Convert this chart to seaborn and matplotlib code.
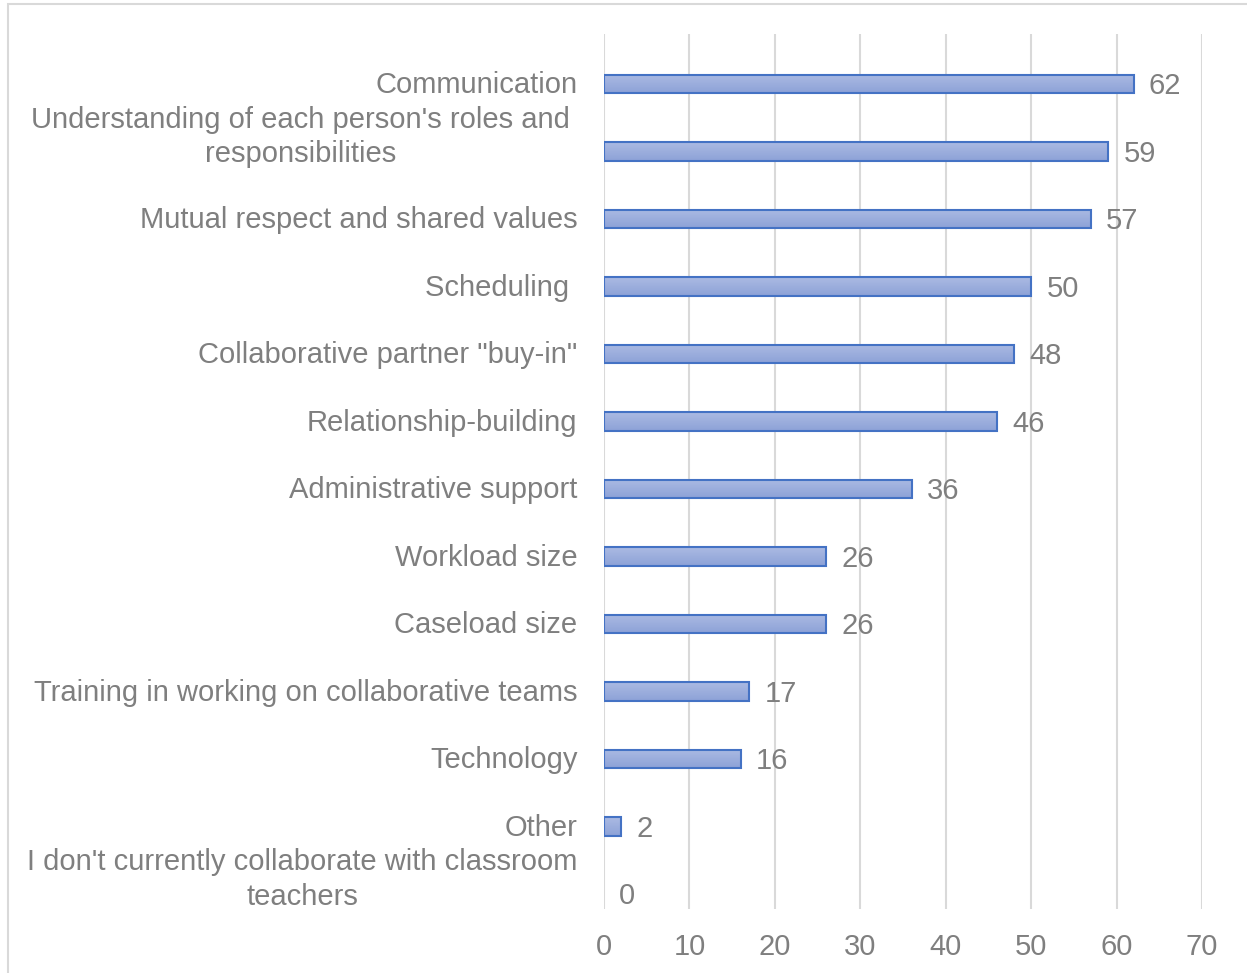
import matplotlib
matplotlib.use("Agg")
import matplotlib.pyplot as plt
import matplotlib.transforms as mtransforms
from matplotlib.patches import Rectangle
import numpy as np
import pandas as pd
import seaborn as sns

# Survey responses: factors in successful collaboration
factors = [
    "Communication",
    "Understanding of each person's roles and\nresponsibilities",
    "Mutual respect and shared values",
    "Scheduling ",
    'Collaborative partner "buy-in"',
    "Relationship-building",
    "Administrative support",
    "Workload size",
    "Caseload size",
    "Training in working on collaborative teams",
    "Technology",
    "Other",
    "I don't currently collaborate with classroom\nteachers",
]
counts = [62, 59, 57, 50, 48, 46, 36, 26, 26, 17, 16, 2, 0]
x_ticks = [0, 10, 20, 30, 40, 50, 60, 70]

GRAY = "#7f7f7f"
EDGE = "#4472c4"
FS = 21

sns.set_theme(style="white")
plt.rcParams["font.family"] = ["Liberation Sans", "DejaVu Sans"]

df = pd.DataFrame({"factor": factors, "count": counts})

W, H, DPI = 1247, 973, 100
fig = plt.figure(figsize=(W / DPI, H / DPI), dpi=DPI)
ax = fig.add_axes([604 / W, 1 - 909 / H, (1202 - 604) / W, (909 - 34) / H])

sns.barplot(data=df, x="count", y="factor", orient="h", ax=ax,
            width=0.27, color="#9dafdf", edgecolor=EDGE, linewidth=1.5,
            zorder=3)

xlim = (0, 70)
ylim = (12.222, -0.741)

# Vertical gradient fill inside each bar
grad = np.linspace(0, 1, 64).reshape(-1, 1)
cmap = matplotlib.colors.LinearSegmentedColormap.from_list(
    "barfill", ["#abbae3", "#8da2d7"])
for bar in ax.containers[0]:
    x0, y0 = bar.get_x(), bar.get_y()
    w, h = bar.get_width(), bar.get_height()
    bar.set_facecolor("none")
    if w <= 0:
        bar.set_linewidth(0)
        continue
    im = ax.imshow(grad, cmap=cmap, aspect="auto", origin="upper",
                   extent=(x0, x0 + w, y0 + h, y0), zorder=2.5,
                   interpolation="bilinear")
    im.set_clip_path(bar)

value_labels = ax.bar_label(ax.containers[0],
                            labels=[str(v) for v in counts],
                            padding=11, fontsize=FS, color=GRAY)
for t in value_labels:
    t.xyann = (11, -1.6)

ax.set_xlim(*xlim)
ax.set_ylim(*ylim)
ax.set_xticks(x_ticks)
ax.set_xticklabels([str(t) for t in x_ticks])
ax.set_xlabel("")
ax.set_ylabel("")

ax.grid(axis="x", color="#d9d9d9", linewidth=1.5, zorder=0)
ax.grid(axis="y", visible=False)
for s in ax.spines.values():
    s.set_visible(False)

ax.tick_params(axis="both", length=0, labelsize=FS, labelcolor=GRAY)
ax.tick_params(axis="x", pad=17.5)
ax.tick_params(axis="y", pad=19)

for lab in ax.get_yticklabels():
    lab.set_multialignment("center")
    dx, dy = 0, 2
    if "\n" in lab.get_text():
        lab.set_linespacing(1.3)
        dy = 21
        if lab.get_text().startswith("Understanding"):
            dx = -8
    off = mtransforms.ScaledTranslation(dx / DPI, dy / DPI,
                                        fig.dpi_scale_trans)
    lab.set_transform(lab.get_transform() + off)

# Light chart-area border
fig.patches.append(Rectangle((8 / W, -0.01), 1.02, 1 - 4 / H + 0.01,
                             transform=fig.transFigure, fill=False,
                             edgecolor="#d9d9d9", linewidth=1.5))

fig.savefig("out.png", dpi=DPI)
